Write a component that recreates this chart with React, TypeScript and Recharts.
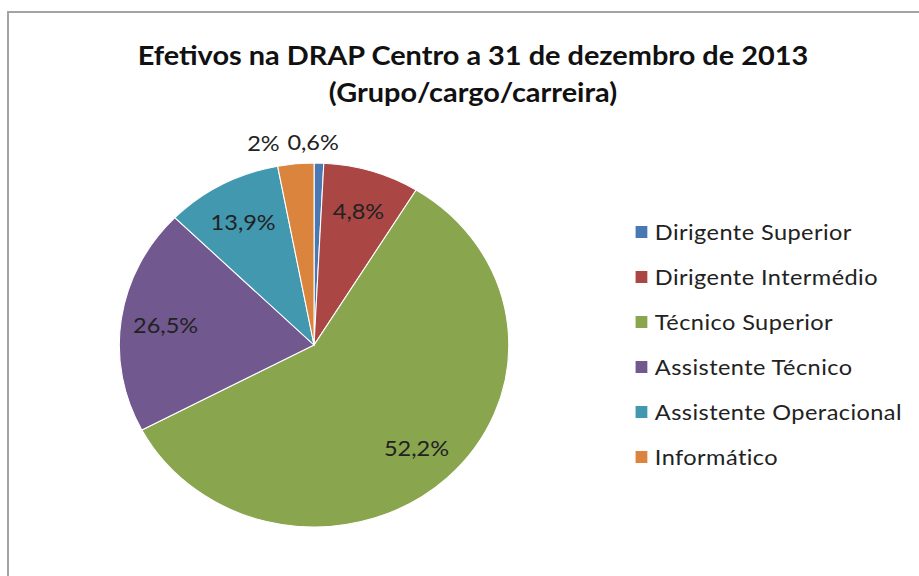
import React from 'react';
import { PieChart, Pie, Cell, Legend } from 'recharts';

const categories = [
  'Dirigente Superior',
  'Dirigente Intermédio',
  'Técnico Superior',
  'Assistente Técnico',
  'Assistente Operacional',
  'Informático',
];
const sliceValues = [0.8, 8.0, 58.6, 20.1, 9.7, 3.0];
const labelTexts = ['0,6%', '4,8%', '52,2%', '26,5%', '13,9%', '2%'];
const colors = ['#4a78b2', '#aa4643', '#89a54e', '#71588f', '#4198af', '#db843d'];
const titleLines = ['Efetivos na DRAP Centro a 31 de dezembro de 2013', '(Grupo/cargo/carreira)'];

const data = categories.map((name, i) => ({ name, value: sliceValues[i], label: labelTexts[i] }));

const FONT = 'Lato, Carlito, "Open Sans", sans-serif';
const RAD = Math.PI / 180;
const STRETCH = 1.07;

const renderLabel = (props: any) => {
  const { cx, cy, midAngle, outerRadius, index, value } = props;
  const small = value < 4;
  const r = small ? outerRadius + 21 : outerRadius * 0.77;
  let x = cx + r * Math.cos(-midAngle * RAD);
  const y = cy + r * Math.sin(-midAngle * RAD);
  let anchor: 'start' | 'middle' | 'end' = 'middle';
  if (small) {
    if (x < cx) {
      anchor = 'end';
      x = x - 13;
    } else {
      anchor = 'start';
      x = x - 30;
    }
  }
  return (
    <text
      x={x}
      y={y}
      textAnchor={anchor}
      dominantBaseline="central"
      fill="#222"
      fontSize={22}
      fontFamily={FONT}
    >
      {labelTexts[index]}
    </text>
  );
};

const renderLegend = () => (
  <div style={{ fontFamily: FONT, fontSize: 22, letterSpacing: 0.4, color: '#222' }}>
    {categories.map((c, i) => (
      <div key={c} style={{ display: 'flex', alignItems: 'center', height: 45 }}>
        <span
          style={{
            display: 'inline-block',
            width: 11,
            height: 12,
            background: colors[i],
            marginRight: 7,
          }}
        />
        <span>{c}</span>
      </div>
    ))}
  </div>
);

export default function App() {
  return (
    <div style={{ position: 'absolute', left: 0, top: 0, width: 919, height: 576, background: '#fff', overflow: 'hidden' }}>
      <div
        style={{
          position: 'absolute',
          left: 7,
          top: 11,
          width: 940,
          height: 600,
          borderTop: '2px solid #a3a3a3',
          borderLeft: '2px solid #a3a3a3',
        }}
      />
      <div
        style={{
          position: 'absolute',
          left: 0,
          top: 0,
          width: 859,
          height: 576,
          transform: `scaleX(${STRETCH})`,
          transformOrigin: '0 0',
        }}
      >
        <div
          style={{
            position: 'absolute',
            left: 0,
            top: 36,
            width: 884,
            textAlign: 'center',
            fontFamily: FONT,
            fontWeight: 'bold',
            fontSize: 27,
            lineHeight: '37px',
            color: '#111',
          }}
        >
          <div>{titleLines[0]}</div>
          <div>{titleLines[1]}</div>
        </div>
        <div style={{ position: 'absolute', left: 0, top: 0 }}>
          <PieChart width={859} height={576} margin={{ top: 0, right: 0, bottom: 0, left: 0 }}>
            <Pie
              data={data}
              dataKey="value"
              nameKey="name"
              cx={293.5}
              cy={345}
              outerRadius={182}
              startAngle={90}
              endAngle={-270}
              stroke="#ffffff"
              strokeWidth={1}
              label={renderLabel}
              labelLine={false}
              isAnimationActive={false}
            >
              {data.map((d, i) => (
                <Cell key={d.name} fill={colors[i]} />
              ))}
            </Pie>
            <Legend
              content={renderLegend}
              wrapperStyle={{ position: 'absolute', left: 594, top: 209, width: 265 }}
            />
          </PieChart>
        </div>
      </div>
    </div>
  );
}
